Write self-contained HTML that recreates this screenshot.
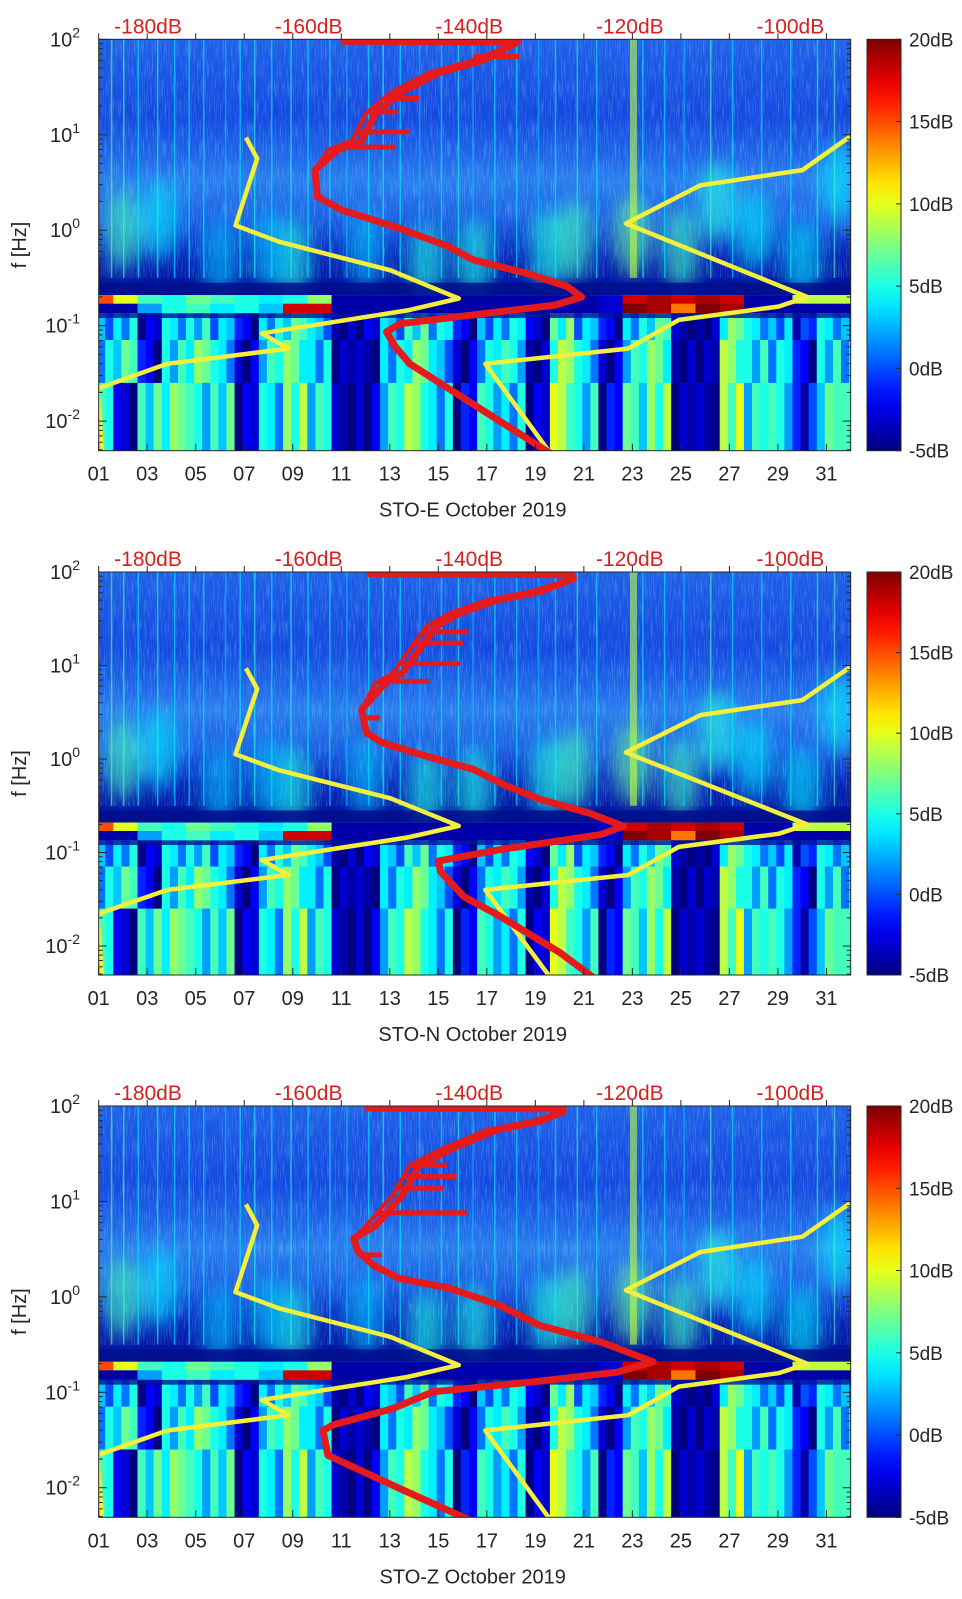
<!DOCTYPE html>
<html><head><meta charset="utf-8"><style>
html,body{margin:0;padding:0;background:#fff;}
svg{display:block;font-family:"Liberation Sans","DejaVu Sans",sans-serif;}
</style></head><body>
<svg id="fig" xmlns="http://www.w3.org/2000/svg" width="962" height="1599" viewBox="0 0 962 1599"></svg>
<script>
// ---------- data ----------
const dayTicks = ["01","03","05","07","09","11","13","15","17","19","21","23","25","27","29","31"];
const dbTickLabels = ["-180dB","-160dB","-140dB","-120dB","-100dB"];
const dbTickValues = [-180,-160,-140,-120,-100];
const cbarLabels = ["20dB","15dB","10dB","5dB","0dB","-5dB"];
const cbarValues = [20,15,10,5,0,-5];
const decades = [2,1,0,-1,-2];

// low noise model (yellow, left)
const lowModelDb   = [-167.8,-166.4,-169.1,-163.7,-149.8,-141.3,-147.7,-165.8,-162.5,-177.6,-186.3,-185.7];
const lowModelLogF = [0.97,0.75,0.05,-0.12,-0.42,-0.715,-0.84,-1.08,-1.24,-1.40,-1.66,-2.37];
// high noise model (yellow, right)
const highModelDb   = [-92.6,-98.5,-111.2,-120.5,-97.9,-101.5,-113.9,-120.2,-138.0,-129.6];
const highModelLogF = [0.98,0.63,0.47,0.07,-0.70,-0.80,-0.94,-1.24,-1.40,-2.37];

// median spectra (red)
const redE_Db   = [-156,-134,-139.5,-145,-149.8,-152.8,-154.6,-157.6,-159.2,-158.9,-155.8,-149.2,-142.6,-139.5,-132.9,-127.8,-126,-129.3,-148.6,-150.3,-149.2,-147.4,-129.3];
const redE_LogF = [1.98,1.97,1.78,1.65,1.44,1.23,0.94,0.84,0.63,0.35,0.21,0.035,-0.17,-0.31,-0.45,-0.59,-0.70,-0.785,-0.98,-1.065,-1.22,-1.40,-2.37];
const redN_Db   = [-152.6,-127.3,-127.0,-132.4,-137.8,-142.4,-145.3,-147.4,-149.5,-151.7,-153.4,-152.8,-150.7,-145.3,-139.5,-135.3,-131.2,-125,-120.8,-123.7,-136.2,-143.8,-143.6,-140.7,-136.2,-128.7,-124.5];
const redN_LogF = [1.98,1.97,1.93,1.79,1.70,1.56,1.42,1.17,0.92,0.81,0.53,0.28,0.17,0.03,-0.11,-0.29,-0.43,-0.58,-0.72,-0.81,-0.97,-1.09,-1.20,-1.47,-1.68,-2.07,-2.34];
const redZ_Db   = [-153,-128.3,-128.3,-132.4,-137.8,-143.2,-147.4,-149.5,-152.8,-154.4,-153.8,-151.9,-148.6,-142.4,-136.2,-131.2,-123.7,-117.1,-121.6,-132.0,-144.5,-149.5,-156.9,-158.2,-157.6,-148.6,-139.9];
const redZ_LogF = [1.98,1.97,1.94,1.84,1.75,1.56,1.38,1.07,0.75,0.61,0.47,0.33,0.19,0.09,-0.09,-0.30,-0.47,-0.68,-0.79,-0.89,-0.995,-1.17,-1.34,-1.40,-1.66,-2.01,-2.34];
// spikes (horizontal red lines): frequency and end level
const spikeE_LogF = [1.82,1.51,1.38,1.24,1.03,0.87];
const spikeE_Db   = [-133.8,-146.2,-146.2,-148.9,-147.4,-149.2];
const spikeN_LogF = [1.36,1.24,1.02,0.83,0.44];
const spikeN_Db   = [-140.1,-140.7,-141.1,-144.9,-151.1];
const spikeZ_LogF = [1.38,1.26,1.14,0.88,0.44];
const spikeZ_Db   = [-142.8,-141.6,-143.2,-140.3,-150.9];

// background spectrogram levels (dB re. colour scale), one per day
const rowA1 = [15,10,6,5,7,6,5,4,5,8,-4,-4,-4,-4,-4,-4,-4,-4,-4,-4,-4,-3,18,19,18,19,18,-4,-4,9,9,9];
const rowA2 = [-4,-4,2,5,6,4,5,3,18,18,-4,-4,-4,-4,-4,-4,-4,-4,-4,-4,-4,-3,20,19,14,20,19,-4,-4,-4,-4,-4];
const rowB = [3,4,-3,4,5,3,-2,4,6,3,-4,-3,3,6,4,-2,3,4,-3,7,3,-2,4,6,-4,-4,7,4,3,-1,4,3];
const rowC = [4,6,-2,5,7,4,-3,5,7,4,-4,-4,4,7,3,-3,4,5,-4,8,4,-3,5,7,-4,-4,8,5,4,-2,5,4];
const rowD = [5,-3,6,7,5,6,-3,4,8,5,-4,-3,5,8,4,-2,5,4,-3,9,5,-2,6,8,-4,-4,9,5,5,-1,6,5];
const blobDay   = [2,3.5,9,12,14.5,16.5,19.5,20.6,23,25,26.5,28,30,31.5,6,8];
const blobLogF  = [0,0.1,-0.3,-0.2,-0.35,-0.3,-0.2,-0.1,-0.05,-0.2,0.3,0,-0.3,0.5,-0.3,-0.2];
const blobLevel = [6,4,5,3,5,5,5,6,7,6,5,4,4,4,3,3];
const streakDay = [1.5,2,2.6,3.4,4.1,4.7,5.3,6.2,6.8,7.4,8.1,8.9,9.6,10.5,11.2,12.1,12.7,13.4,14.2,15.1,15.8,16.4,17.3,18.2,19.1,19.8,20.7,21.5,22.9,23.4,24.3,25.1,26.2,27.1,28.3,29.5,30.6,31.3];
const streakLevel = [7,6,4,5,4,4,4,3,4,5,4,5,4,4,3,4,5,4,3,4,5,3,4,4,3,4,5,4,9,4,4,3,6,4,4,4,5,6];

// ---------- helpers ----------
const NS = "http://www.w3.org/2000/svg";
const svg = document.getElementById("fig");
function el(tag, attrs, parent){ const e=document.createElementNS(NS,tag); for(const k in attrs) e.setAttribute(k,attrs[k]); (parent||svg).appendChild(e); return e; }
function clamp(v){return Math.max(0,Math.min(1,v));}
function jet(level){ const t=clamp((level+5)/25);
  const r=clamp(1.5-Math.abs(4*t-3)), g=clamp(1.5-Math.abs(4*t-2)), b=clamp(1.5-Math.abs(4*t-1));
  return `rgb(${Math.round(r*255)},${Math.round(g*255)},${Math.round(b*255)})`; }
function interpDb(dbs, fs, f){
  for(let i=2;i<fs.length-1;i++){
    if((fs[i]-f)*(fs[i+1]-f)<=0){ const t=(f-fs[i])/(fs[i+1]-fs[i]||1); return dbs[i]+t*(dbs[i+1]-dbs[i]); }
  }
  return dbs[2];
}

const X0=98.7, X1=850.7, D0=1, D1=32;
function xDay(d){ return X0+(d-D0)*(X1-X0)/(D1-D0); }
function xDb(db){ return 148+(db+180)*8.03; }

const panels = [
 {id:"e", title:"STO-E October 2019", top:39.3, bottom:450.7, redDb:redE_Db, redLogF:redE_LogF, spkF:spikeE_LogF, spkDb:spikeE_Db},
 {id:"n", title:"STO-N October 2019", top:572, bottom:975, redDb:redN_Db, redLogF:redN_LogF, spkF:spikeN_LogF, spkDb:spikeN_Db},
 {id:"z", title:"STO-Z October 2019", top:1106, bottom:1517.3, redDb:redZ_Db, redLogF:redZ_LogF, spkF:spikeZ_LogF, spkDb:spikeZ_Db}
];
const LMAX=2, LMIN=-2.31;

const defs = el("defs",{});
const cg = el("linearGradient",{id:"jetgrad",x1:"0",y1:"1",x2:"0",y2:"0"},defs);
for(let i=0;i<=20;i++){ el("stop",{offset:(i/20).toFixed(2),"stop-color":jet(-5+25*i/20)},cg); }
const bg = el("linearGradient",{id:"upgrad",x1:"0",y1:"0",x2:"0",y2:"1"},defs);
[[0,"rgb(30,95,232)"],[0.3,"rgb(20,72,224)"],[0.45,"rgb(30,100,232)"],[0.55,"rgb(40,125,238)"],[0.7,"rgb(28,95,228)"],[0.85,"rgb(5,35,185)"],[1,"rgb(0,15,150)"]].forEach(s=>el("stop",{offset:s[0],"stop-color":s[1]},bg));
const blur = el("filter",{id:"blur",x:"-50%",y:"-50%",width:"200%",height:"200%"},defs);
el("feGaussianBlur",{stdDeviation:"9"},blur);
const noise = el("filter",{id:"noise",x:"0",y:"0",width:"100%",height:"100%"},defs);
el("feTurbulence",{type:"fractalNoise",baseFrequency:"0.9 0.05",numOctaves:"2",seed:"3",result:"t"},noise);
el("feColorMatrix",{type:"matrix",values:"0 0 0 0 0.4  0 0 0 0 0.85  0 0 0 0 1  0 0 0 1.6 -0.75"},noise);

panels.forEach((p,pi)=>{
  const yF = f => p.top+(LMAX-f)*(p.bottom-p.top)/(LMAX-LMIN);
  const g = el("g",{});
  
  
  const cp = el("clipPath",{id:"clip"+pi},defs);
  el("rect",{x:X0,y:p.top,width:X1-X0,height:p.bottom-p.top},cp);
  const img = el("g",{"clip-path":`url(#clip${pi})`},g);
  
  
  // upper continuum
  el("rect",{x:X0,y:p.top,width:X1-X0,height:yF(-0.68)-p.top,fill:"url(#upgrad)"},img);
  el("rect",{x:X0,y:p.top,width:X1-X0,height:yF(-0.5)-p.top,fill:"#fff",filter:"url(#noise)",opacity:0.5},img);
  // blobs
  const bl = el("g",{filter:"url(#blur)"},img);
  blobDay.forEach((d,i)=>{
    const e = el("ellipse",{cx:xDay(d),cy:yF(blobLogF[i]),rx:18,ry:40,fill:jet(blobLevel[i]),opacity:0.6},bl);
    
  });
  // streaks
  streakDay.forEach((d,i)=>{
    const s = el("rect",{x:xDay(d),y:p.top,width:(streakLevel[i]>7?7:1.5),height:yF(-0.5)-p.top,fill:jet(streakLevel[i]),opacity:0.6},img);
    
  });
  // dark band
  el("rect",{x:X0,y:yF(-0.55),width:X1-X0,height:yF(-0.68)-yF(-0.55),fill:"rgb(0,15,140)",opacity:0.85},img);
  // banded rows
  const rows=[[rowA1,-0.68,-0.77],[rowA2,-0.77,-0.87],[rowB,-0.87,-1.15],[rowC,-1.15,-1.6],[rowD,-1.6,-2.4]];
  rows.forEach((r,ri)=>{
    r[0].forEach((lv,di)=>{
      for(let k=0;k<3;k++){
        const v = ri<2 ? lv : lv + [0,-3,1][ (k+di+ri)%3 ];
        const c = el("rect",{x:xDay(0.6+di+k/3),y:yF(r[1]),width:(X1-X0)/31/3+0.6,height:yF(r[2])-yF(r[1])+0.5,fill:jet(v)},img);
        
      }
    });
  });
  el("rect",{x:X0,y:yF(-0.87),width:X1-X0,height:yF(-0.92)-yF(-0.87),fill:"rgb(0,20,150)",opacity:0.8},img);
  // yellow models
  const line=(dbs,fs)=>dbs.map((v,i)=>xDb(v).toFixed(1)+","+yF(fs[i]).toFixed(1)).join(" ");
  const lm = el("polyline",{points:line(lowModelDb,lowModelLogF),fill:"none",stroke:"#f4ee3c","stroke-width":4.5,"stroke-linejoin":"round"},img);
  
  
  const hm = el("polyline",{points:line(highModelDb,highModelLogF),fill:"none",stroke:"#f4ee3c","stroke-width":4.5,"stroke-linejoin":"round"},img);
  
  
  // red spikes and curve
  p.spkF.forEach((f,i)=>{
    const s = el("line",{x1:xDb(interpDb(p.redDb,p.redLogF,f)),x2:xDb(p.spkDb[i]),y1:yF(f),y2:yF(f),stroke:"#e41a1c","stroke-width":5},img);
    
  });
  const rl = el("polyline",{points:line(p.redDb,p.redLogF),fill:"none",stroke:"#e41a1c","stroke-width":4,"stroke-linejoin":"round"},img);
  
  
  const rl2 = el("polyline",{points:line(p.redDb.map((v,i)=>v+(p.redLogF[i]>0.7&&p.redLogF[i]<1.9?1.2:0)),p.redLogF),fill:"none",stroke:"#e41a1c","stroke-width":7,"stroke-linejoin":"round"},img);
  
  // frame
  el("rect",{x:X0,y:p.top,width:X1-X0,height:p.bottom-p.top,fill:"none",stroke:"#262626","stroke-width":1},g);
  // y ticks
  for(let dcd=-3;dcd<2;dcd++){
    for(let m=1;m<10;m++){
      const f=dcd+Math.log10(m); if(f<LMIN||f>LMAX) continue;
      const L=m===1?8:4;
      el("line",{x1:X0,x2:X0+L,y1:yF(f),y2:yF(f),stroke:"#262626"},g);
      el("line",{x1:X1,x2:X1-L,y1:yF(f),y2:yF(f),stroke:"#262626"},g);
    }
  }
  el("line",{x1:X0,x2:X0+8,y1:yF(2),y2:yF(2),stroke:"#262626"},g);
  decades.forEach(dc=>{
    const t = el("text",{x:80,y:yF(dc)+7,"text-anchor":"end","font-size":20,fill:"#262626"},g);
    
    
    t.textContent="10";
    const s=document.createElementNS(NS,"tspan"); s.setAttribute("dy","-9"); s.setAttribute("font-size","14"); s.textContent=String(dc); t.appendChild(s);
  });
  const yl = el("text",{x:0,y:0,transform:`translate(26,${(p.top+p.bottom)/2}) rotate(-90)`,"text-anchor":"middle","font-size":20,fill:"#262626"},g);
  
  
  yl.textContent="f [Hz]";
  // x ticks
  dayTicks.forEach(lbl=>{
    const x=xDay(parseInt(lbl,10));
    el("line",{x1:x,x2:x,y1:p.bottom,y2:p.bottom-7,stroke:"#262626"},g);
    el("line",{x1:x,x2:x,y1:p.top,y2:p.top-6,stroke:"#262626"},g);
    const t = el("text",{x:x,y:p.bottom+30,"text-anchor":"middle","font-size":20,fill:"#262626"},g);
    
    
    t.textContent=lbl;
  });
  const xl = el("text",{x:(X0+X1)/2-2,y:p.bottom+66,"text-anchor":"middle","font-size":20,fill:"#262626"},g);
  
  
  xl.textContent=p.title;
  // top dB labels
  dbTickLabels.forEach((lbl,i)=>{
    const t = el("text",{x:xDb(dbTickValues[i]),y:p.top-6,"text-anchor":"middle","font-size":21,fill:"#d8201e"},g);
    
    
    t.textContent=lbl;
  });
  // colorbar
  const cb = el("rect",{x:867,y:p.top,width:34,height:p.bottom-p.top,fill:"url(#jetgrad)",stroke:"#262626","stroke-width":1},g);
  
  
  cbarLabels.forEach((lbl,i)=>{
    const y=p.bottom-(cbarValues[i]+5)/25*(p.bottom-p.top);
    el("line",{x1:901,x2:896,y1:y,y2:y,stroke:"#262626"},g);
    const t = el("text",{x:909,y:y+7,"font-size":19,fill:"#262626"},g);
    
    
    t.textContent=lbl;
  });
});
</script>
</body></html>
